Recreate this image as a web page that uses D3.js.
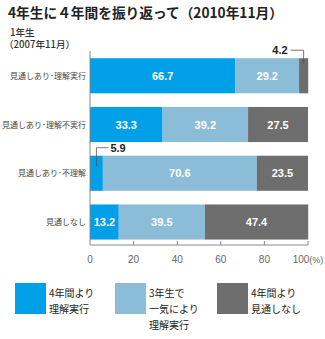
<!DOCTYPE html>
<html>
<head>
<meta charset="utf-8">
<script src="https://cdn.jsdelivr.net/npm/d3@7"></script>
<style>
  body { margin: 0; background: #fff; }
  text { font-family: "Noto Sans CJK JP", "Liberation Sans", sans-serif; }
  .num { font-family: "Liberation Sans", Arial, sans-serif; }
</style>
</head>
<body>
<div id="chart"></div>
<script>
// chart data
var categories = ['見通しあり･理解実行', '見通しあり･理解不実行', '見通しあり･不理解', '見通しなし'];
var seriesNames = ['4年間より理解実行', '3年生で一気により理解実行', '4年間より見通しなし'];
var series1 = [66.7, 33.3, 5.9, 13.2];
var series2 = [29.2, 39.2, 70.6, 39.5];
var series3 = [4.2, 27.5, 23.5, 47.4];
var xTicks = [0, 20, 40, 60, 80, 100];
var colors = ['#00a0e9', '#8bbdd9', '#6e6e6e'];
var legendLines = [['4年間より', '理解実行'], ['3年生で', '一気により', '理解実行'], ['4年間より', '見通しなし']];

var svgWidth = 325, svgHeight = 339;
var margin = {left: 90, right: 17, top: 51, bottom: 94};
var width = svgWidth - margin.left - margin.right,
    height = svgHeight - margin.top - margin.bottom;

var svg = d3.select('#chart').append('svg')
    .attr('width', svgWidth)
    .attr('height', svgHeight);

// titles
svg.append('text')
    .attr('x', 8).attr('y', 18)
    .attr('font-size', '13.7px')
    .attr('font-weight', 'bold')
    .attr('fill', '#222')
    .text('4年生に４年間を振り返って（2010年11月）');
svg.append('text')
    .attr('x', 10).attr('y', 35.5)
    .attr('font-size', '9.6px')
    .attr('font-weight', 500)
    .attr('fill', '#333')
    .text('1年生');
svg.append('text')
    .attr('x', 4).attr('y', 48)
    .attr('font-size', '9.6px')
    .attr('font-weight', 500)
    .attr('fill', '#333')
    .text('（2007年11月）');

var chartGroup = svg.append('g')
    .attr('transform', `translate(${margin.left}, ${margin.top})`);

var x = d3.scaleLinear().domain([0, 100]).range([0, width]);
var y = d3.scaleBand().domain(categories).range([0, height])
    .paddingInner(0.28).paddingOuter(0.13).align(0.57);

// stack the series
var rows = categories.map(function(c, i) {
    return {cat: c, s0: series1[i], s1: series2[i], s2: series3[i]};
});
var stacked = d3.stack().keys(['s0', 's1', 's2'])(rows);

var layers = chartGroup.selectAll('.layer')
    .data(stacked)
    .enter().append('g')
    .attr('fill', (d, i) => colors[i]);

layers.selectAll('rect')
    .data(d => d)
    .enter().append('rect')
    .attr('x', d => x(d[0]))
    .attr('y', d => y(d.data.cat))
    .attr('width', d => x(d[1]) - x(d[0]))
    .attr('height', y.bandwidth());

// value labels inside bars (small ones go outside with a leader)
layers.selectAll('.val')
    .data(d => d.map(v => ({v: v, key: d.key})))
    .enter().append('text')
    .filter(d => (d.v[1] - d.v[0]) >= 10)
    .attr('class', 'num')
    .attr('x', d => x((d.v[0] + d.v[1]) / 2))
    .attr('y', d => y(d.v.data.cat) + y.bandwidth() / 2 + 4)
    .attr('text-anchor', 'middle')
    .attr('font-size', '11px')
    .attr('font-weight', 'bold')
    .attr('fill', '#fff')
    .text(d => (d.v[1] - d.v[0]).toFixed(1));

// outside labels for 4.2 and 5.9
var smalls = [];
stacked.forEach(function(layer) {
    layer.forEach(function(d) {
        if (d[1] - d[0] < 10) smalls.push(d);
    });
});
smalls.forEach(function(d) {
    var mx = x((d[0] + d[1]) / 2);
    var top = y(d.data.cat);
    var val = (d[1] - d[0]).toFixed(1);
    var ly = top - 8;
    var g = chartGroup.append('g');
    if (mx > width / 2) {
        g.append('path')
            .attr('d', `M${mx - 13},${ly} H${mx} V${top + 6}`)
            .attr('fill', 'none').attr('stroke', '#555').attr('stroke-width', 0.8);
        g.append('text').attr('class', 'num')
            .attr('x', mx - 16).attr('y', ly + 4)
            .attr('text-anchor', 'end')
            .attr('font-size', '11px').attr('font-weight', 'bold').attr('fill', '#222')
            .text(val);
    } else {
        g.append('path')
            .attr('d', `M${mx + 12},${ly} H${mx} V${top + 11}`)
            .attr('fill', 'none').attr('stroke', '#555').attr('stroke-width', 0.8);
        g.append('text').attr('class', 'num')
            .attr('x', mx + 14).attr('y', ly + 4)
            .attr('font-size', '11px').attr('font-weight', 'bold').attr('fill', '#222')
            .text(val);
    }
});

// category labels
chartGroup.selectAll('.cat')
    .data(categories)
    .enter().append('text')
    .attr('x', -4)
    .attr('y', d => y(d) + y.bandwidth() / 2 + 3)
    .attr('text-anchor', 'end')
    .attr('font-size', '8px')
    .attr('fill', '#444')
    .text(d => d);

// axes lines
chartGroup.append('line')
    .attr('x1', 0).attr('x2', 0).attr('y1', 0).attr('y2', height)
    .attr('stroke', '#888').attr('stroke-width', 1);
chartGroup.append('line')
    .attr('x1', 0).attr('x2', width).attr('y1', height).attr('y2', height)
    .attr('stroke', '#888').attr('stroke-width', 1);
chartGroup.selectAll('.tick')
    .data(xTicks.slice(1))
    .enter().append('line')
    .attr('x1', d => x(d)).attr('x2', d => x(d))
    .attr('y1', height - 4).attr('y2', height)
    .attr('stroke', '#888');
var tickLabels = chartGroup.selectAll('.tickLabel')
    .data(xTicks)
    .enter().append('text')
    .attr('class', 'num')
    .attr('x', d => x(d))
    .attr('y', height + 18)
    .attr('text-anchor', 'middle')
    .attr('font-size', '10px')
    .attr('fill', '#666');
tickLabels.append('tspan').text(d => d);
tickLabels.filter(d => d === 100).append('tspan')
    .attr('font-size', '9px')
    .text('(%)');

// legend
var legendX = [15, 115, 217];
var legend = svg.selectAll('.legend')
    .data(seriesNames)
    .enter().append('g')
    .attr('transform', (d, i) => `translate(${legendX[i]}, 283)`);
legend.append('rect')
    .attr('width', 31).attr('height', 31)
    .attr('fill', (d, i) => colors[i]);
legend.each(function(d, i) {
    d3.select(this).selectAll('text')
        .data(legendLines[i])
        .enter().append('text')
        .attr('x', 34)
        .attr('y', (t, j) => 13.5 + j * 16)
        .attr('font-size', '10px')
        .attr('fill', '#222')
        .text(t => t);
});
</script>
</body>
</html>
